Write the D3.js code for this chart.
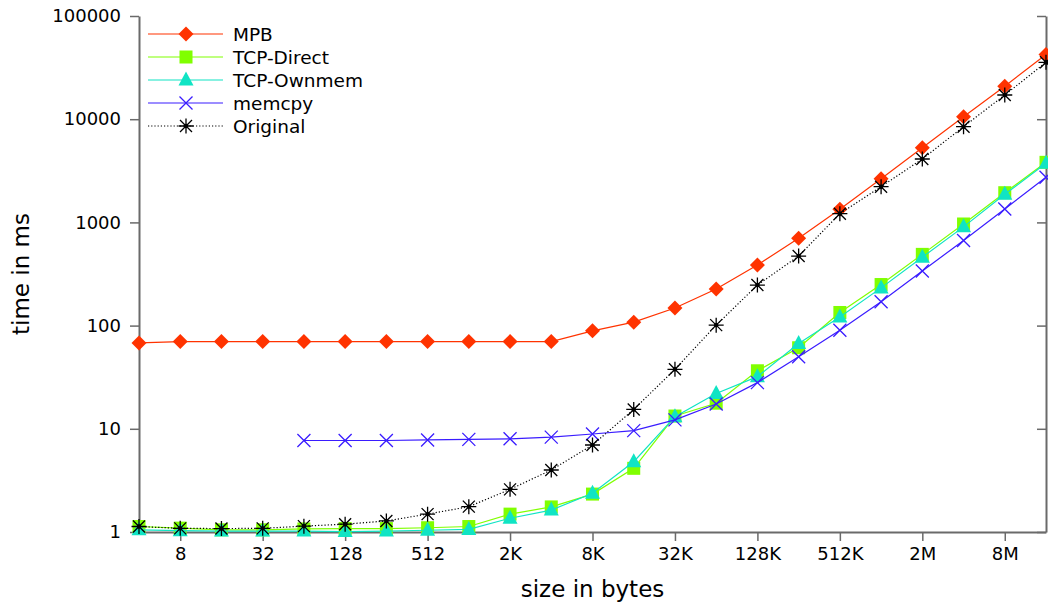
<!DOCTYPE html>
<html>
<head>
<meta charset="utf-8">
<script src="https://cdn.jsdelivr.net/npm/d3@7/dist/d3.min.js"></script>
<style>
  body { margin: 0; background: #fff; }
  svg { display: block; font-family: "DejaVu Sans", sans-serif; }
</style>
</head>
<body>
<svg id="chart" width="1048" height="607"></svg>
<script>
// message sizes in bytes (4 .. 16M)
var sizes = [4, 8, 16, 32, 64, 128, 256, 512, 1024, 2048, 4096, 8192, 16384, 32768,
  65536, 131072, 262144, 524288, 1048576, 2097152, 4194304, 8388608, 16777216];

var xTicks = [8, 32, 128, 512, 2048, 8192, 32768, 131072, 524288, 2097152, 8388608];
var xTickLabels = ['8', '32', '128', '512', '2K', '8K', '32K', '128K', '512K', '2M', '8M'];
var yTicks = [1, 10, 100, 1000, 10000, 100000];

var mpb = [68, 70, 70, 70, 70, 70, 70, 70, 70, 70, 70, 89, 108, 148, 226, 386, 703,
  1340, 2650, 5280, 10550, 20900, 42300];
var tcpDirect = [1.13, 1.09, 1.05, 1.05, 1.07, 1.08, 1.08, 1.1, 1.13, 1.49, 1.75, 2.33,
  4.14, 13.3, 17.7, 36.5, 61, 134, 250, 490, 965, 1940, 3820];
var tcpOwnmem = [1.05, 1.03, 1.02, 1.02, 1.02, 1.01, 1.02, 1.04, 1.06, 1.36, 1.63, 2.37,
  4.8, 13.1, 22, 32, 67, 121, 232, 460, 905, 1870, 3740];
var memcpy = [null, null, null, null, 7.7, 7.7, 7.7, 7.8, 7.9, 8.0, 8.3, 8.9,
  9.6, 12.2, 17.4, 28, 50, 90, 170, 338, 668, 1349, 2736];
var original = [1.13, 1.085, 1.08, 1.085, 1.14, 1.19, 1.28, 1.49, 1.76, 2.59, 3.99, 6.97,
  15.4, 37.7, 101, 247, 472, 1215, 2218, 4113, 8460, 17150, 35600];

var series = [
  { key: 'MPB', values: mpb, color: '#ff3300', marker: 'diamond' },
  { key: 'TCP-Direct', values: tcpDirect, color: '#80ff00', marker: 'square' },
  { key: 'TCP-Ownmem', values: tcpOwnmem, color: '#10e4c4', marker: 'triangle' },
  { key: 'memcpy', values: memcpy, color: '#3a1cff', marker: 'cross' },
  { key: 'Original', values: original, color: '#000000', marker: 'star', dash: '1.2,2' }
];

(function() {
  var svg = d3.select('#chart');
  var plotL = 139, plotR = 1046, plotT = 16, plotB = 532;
  var axisColor = '#6a6a6a';

  var x = d3.scaleLog().base(2).domain([4, 16777216]).range([plotL, plotR]);
  var y = d3.scaleLog().domain([1, 100000]).range([plotB, plotT]);

  // axes
  var xAxis = d3.axisBottom(x).tickValues(xTicks)
    .tickFormat(function(d, i) { return xTickLabels[i]; })
    .tickSize(9).tickSizeOuter(0).tickPadding(6);
  var yAxis = d3.axisLeft(y).tickValues(yTicks)
    .tickFormat(d3.format('d')).tickSize(9).tickSizeOuter(0).tickPadding(9);
  var yAxisRight = d3.axisLeft(y).tickValues(yTicks)
    .tickFormat('').tickSize(9).tickSizeOuter(0);

  function styleAxis(g) {
    g.select('.domain').attr('stroke', axisColor).attr('stroke-width', 2);
    g.selectAll('.tick line').attr('stroke', axisColor).attr('stroke-width', 1.5);
    g.selectAll('.tick text').attr('fill', '#000').style('font-size', '18px')
      .style('font-family', '"DejaVu Sans", sans-serif');
  }

  svg.append('g').attr('transform', 'translate(0,' + plotB + ')').call(xAxis).call(styleAxis);
  svg.append('g').attr('transform', 'translate(' + plotL + ',0)').call(yAxis).call(styleAxis);
  svg.append('g').attr('transform', 'translate(' + plotR + ',0)').call(yAxisRight).call(styleAxis)
    .selectAll('.tick line').attr('x2', -9);

  // axis titles
  svg.append('text')
    .attr('x', (plotL + plotR) / 2).attr('y', 597)
    .attr('text-anchor', 'middle').style('font-size', '23px')
    .text('size in bytes');
  svg.append('text')
    .attr('transform', 'translate(29,' + ((plotT + plotB) / 2) + ') rotate(-90)')
    .attr('text-anchor', 'middle').style('font-size', '23px')
    .text('time in ms');

  // marker drawing
  function drawMarker(g, type, color) {
    if (type === 'diamond') {
      g.append('path').attr('d', 'M0,-7.5L7.5,0L0,7.5L-7.5,0Z').attr('fill', color);
    } else if (type === 'square') {
      g.append('rect').attr('x', -6.5).attr('y', -6.5).attr('width', 13).attr('height', 13).attr('fill', color);
    } else if (type === 'triangle') {
      g.append('path').attr('d', 'M0,-8.5L7.5,5.5L-7.5,5.5Z').attr('fill', color);
    } else if (type === 'cross') {
      g.append('path').attr('d', 'M-6.5,-6.5L6.5,6.5M-6.5,6.5L6.5,-6.5')
        .attr('stroke', color).attr('stroke-width', 1.3).attr('fill', 'none');
    } else if (type === 'star') {
      g.append('path').attr('d', 'M-6,-6L6,6M-6,6L6,-6M0,-7.5L0,7.5M-7.5,0L7.5,0')
        .attr('stroke', color).attr('stroke-width', 1.3).attr('fill', 'none');
      g.append('circle').attr('r', 2.2).attr('fill', color);
    }
  }

  var line = d3.line()
    .defined(function(d) { return d != null; })
    .x(function(d, i) { return x(sizes[i]); })
    .y(function(d) { return y(d); });

  series.forEach(function(s) {
    var g = svg.append('g').attr('class', 'series');
    g.append('path')
      .datum(s.values)
      .attr('d', line)
      .attr('fill', 'none')
      .attr('stroke', s.color)
      .attr('stroke-width', 1.2)
      .attr('stroke-dasharray', s.dash || null);
    g.selectAll('.pt')
      .data(s.values.map(function(v, i) { return { v: v, i: i }; })
        .filter(function(d) { return d.v != null; }))
      .enter().append('g')
      .attr('class', 'pt')
      .attr('transform', function(d) { return 'translate(' + x(sizes[d.i]) + ',' + y(d.v) + ')'; })
      .each(function() { drawMarker(d3.select(this), s.marker, s.color); });
  });

  // legend
  var legend = svg.append('g').attr('transform', 'translate(148,34)');
  var items = legend.selectAll('.legend').data(series).enter().append('g')
    .attr('class', 'legend')
    .attr('transform', function(d, i) { return 'translate(0,' + (i * 23) + ')'; });
  items.append('line')
    .attr('x1', 0).attr('x2', 75).attr('y1', 0).attr('y2', 0)
    .attr('stroke', function(d) { return d.color; })
    .attr('stroke-width', 1.2)
    .attr('stroke-dasharray', function(d) { return d.dash || null; });
  items.append('g').attr('transform', 'translate(38,0)')
    .each(function(d) { drawMarker(d3.select(this), d.marker, d.color); });
  items.append('text')
    .attr('x', 85).attr('dy', '.36em')
    .style('font-size', '18.5px')
    .text(function(d) { return d.key; });
})();
</script>
</body>
</html>
